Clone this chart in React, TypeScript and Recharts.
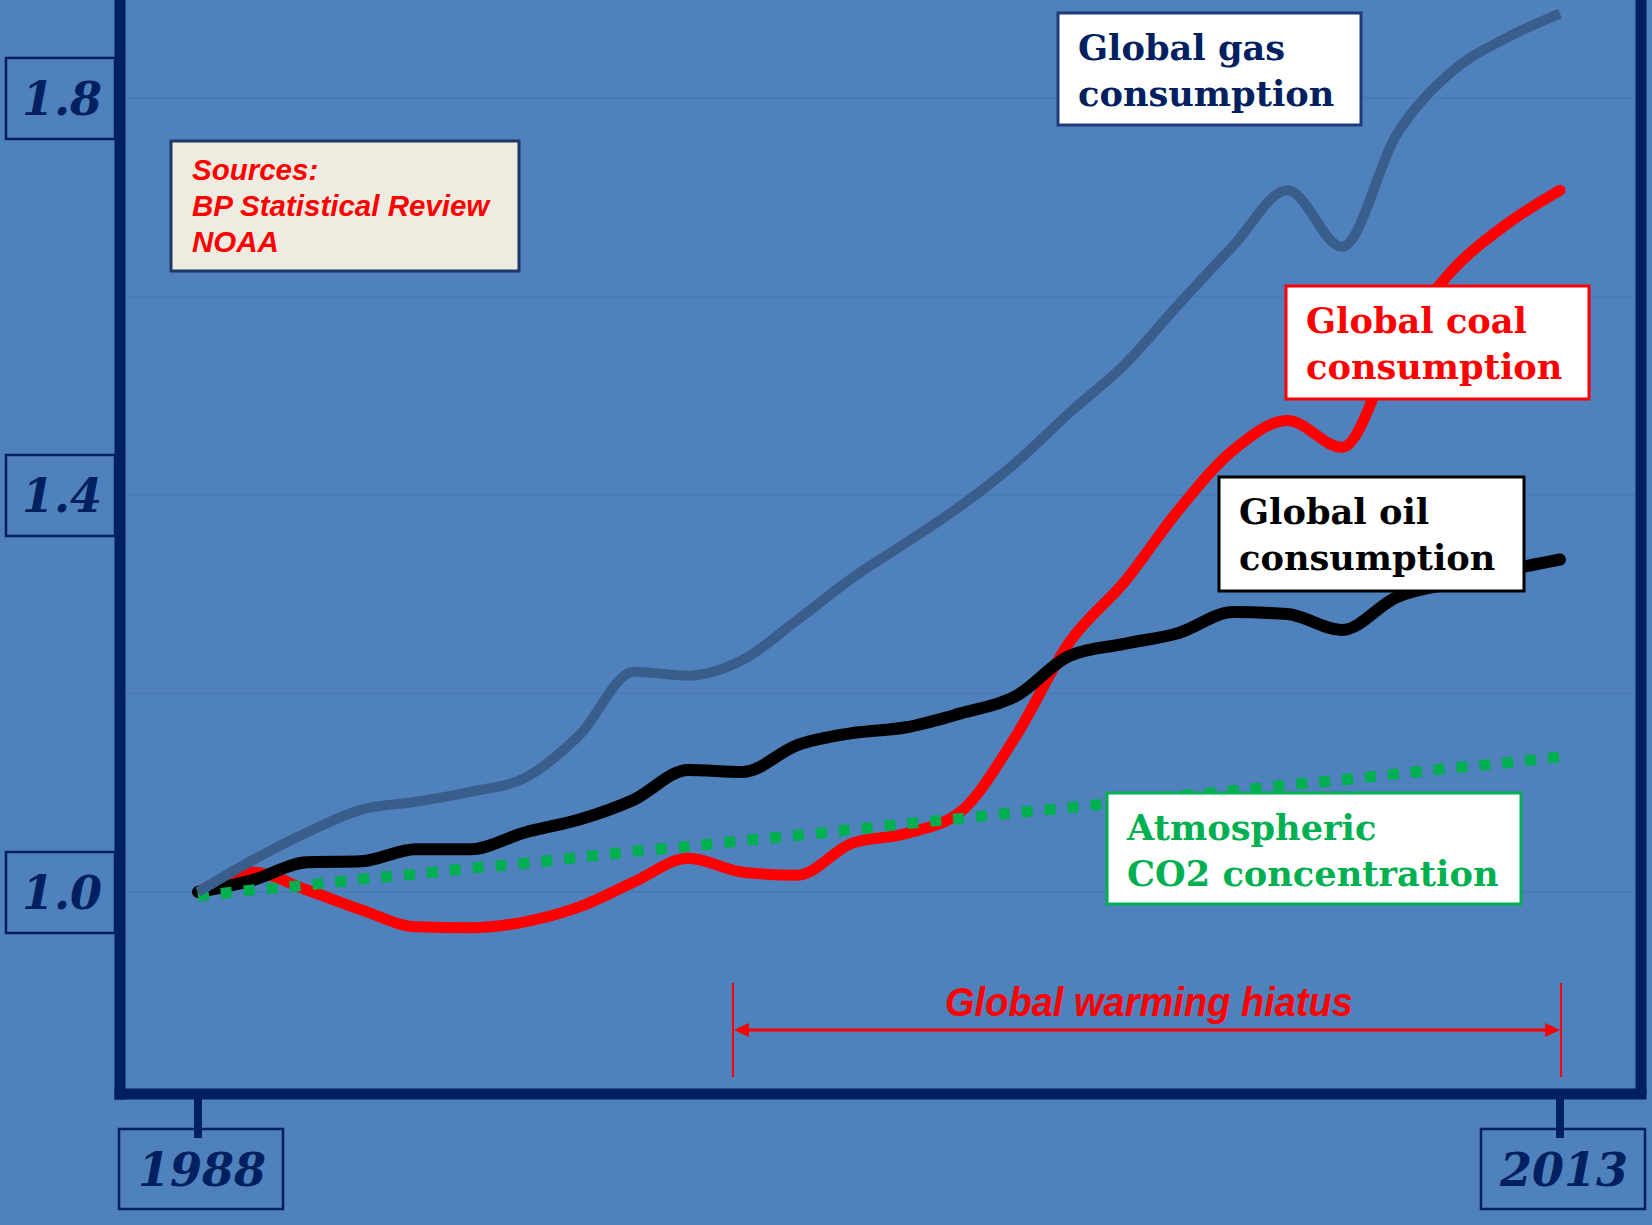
import React from 'react';
import { LineChart, Line, XAxis, YAxis, CartesianGrid, ReferenceLine } from 'recharts';

// ---------- data (indexed 1988 = 1.0) ----------
const years = [1988, 1989, 1990, 1991, 1992, 1993, 1994, 1995, 1996, 1997, 1998, 1999, 2000,
  2001, 2002, 2003, 2004, 2005, 2006, 2007, 2008, 2009, 2010, 2011, 2012, 2013];

const gasIndex = [1.000, 1.032, 1.060, 1.083, 1.091, 1.101, 1.115, 1.158, 1.222, 1.218, 1.234, 1.274, 1.316,
  1.352, 1.389, 1.432, 1.483, 1.531, 1.592, 1.651, 1.707, 1.650, 1.763, 1.826, 1.860, 1.885];

const coalIndex = [1.000, 1.020, 1.002, 0.982, 0.965, 0.964, 0.970, 0.985, 1.010, 1.034, 1.020, 1.017, 1.049,
  1.059, 1.081, 1.156, 1.252, 1.312, 1.385, 1.445, 1.475, 1.448, 1.551, 1.625, 1.672, 1.707];

const oilIndex = [1.000, 1.012, 1.030, 1.031, 1.043, 1.043, 1.060, 1.073, 1.093, 1.123, 1.121, 1.148, 1.160,
  1.166, 1.180, 1.197, 1.238, 1.250, 1.261, 1.282, 1.280, 1.264, 1.297, 1.311, 1.324, 1.335];

const co2Index = [0.996, 1.002, 1.007, 1.013, 1.018, 1.024, 1.029, 1.035, 1.041, 1.046, 1.052, 1.057, 1.063,
  1.069, 1.074, 1.080, 1.085, 1.091, 1.097, 1.102, 1.108, 1.113, 1.119, 1.125, 1.130, 1.136];

const xTicks = [1988, 2013];
const yTicks = [1.0, 1.4, 1.8];
const gridValues = [1.0, 1.2, 1.4, 1.6, 1.8];

const gasLabel = ['Global gas', 'consumption'];
const coalLabel = ['Global coal', 'consumption'];
const oilLabel = ['Global oil', 'consumption'];
const co2Label = ['Atmospheric', 'CO2 concentration'];
const sourcesLabel = ['Sources:', 'BP Statistical Review', 'NOAA'];
const hiatusLabel = 'Global warming hiatus';
const hiatusYears = [1997.82, 2013.02];

const rows = years.map((year, i) => ({
  year,
  gas: gasIndex[i],
  coal: coalIndex[i],
  oil: oilIndex[i],
  co2: co2Index[i],
}));

// ---------- layout / style ----------
const W = 1652;
const H = 1225;
const BG = '#4F81BD';
const NAVY = '#002060';
const RED = '#FF0000';
const GREEN = '#00B050';
const GAS = '#3A5E8C';
const X_DOMAIN: [number, number] = [1986.568, 2014.487];
const Y_DOMAIN: [number, number] = [0.7965, 1.8987];
const PLOT_LEFT = 120;
const PLOT_RIGHT = 1641;
const xPx = (yr: number) => PLOT_LEFT + ((yr - X_DOMAIN[0]) / (X_DOMAIN[1] - X_DOMAIN[0])) * (PLOT_RIGHT - PLOT_LEFT);

const LEGEND_FONT = '"DejaVu Serif", serif';
const TICK_FONT = '"DejaVu Serif", serif';
const SANS = '"Liberation Sans", Arial, sans-serif';

const YTick = (props: any) => {
  const { y, payload } = props;
  return (
    <g>
      <rect x={6} y={y - 40} width={109} height={81} fill="none" stroke={NAVY} strokeWidth={2.5} />
      <text x={62} y={y + 17} textAnchor="middle" fontFamily={TICK_FONT} fontWeight="bold"
        fontStyle="italic" fontSize={46} fill={NAVY}>
        {Number(payload.value).toFixed(1)}
      </text>
    </g>
  );
};

const XTick = (props: any) => {
  const { x, payload } = props;
  return (
    <g>
      <rect x={x - 79} y={1129} width={164} height={80} fill="none" stroke={NAVY} strokeWidth={2.5} />
      <text x={x + 4} y={1186} textAnchor="middle" fontFamily={TICK_FONT} fontWeight="bold"
        fontStyle="italic" fontSize={46} fill={NAVY}>
        {payload.value}
      </text>
    </g>
  );
};

const boxLayout = [
  { lines: gasLabel, x: 1058, y: 13, w: 303, h: 112, color: NAVY, border: '#1F3A78' },
  { lines: coalLabel, x: 1286, y: 286, w: 303, h: 113, color: RED, border: RED },
  { lines: oilLabel, x: 1219, y: 477, w: 305, h: 114, color: '#000000', border: '#000000' },
  { lines: co2Label, x: 1107, y: 793, w: 414, h: 111, color: GREEN, border: GREEN },
];

const Overlay = () => {
  const hx1 = xPx(hiatusYears[0]);
  const hx2 = xPx(hiatusYears[1]);
  const ay = 1030;
  return (
    <svg width={W} height={H} style={{ position: 'absolute', left: 0, top: 0, pointerEvents: 'none' }}>
      {/* sources box */}
      <rect x={171} y={141} width={348} height={130} fill="#EEECE1" stroke="#1F3864" strokeWidth={3} />
      {sourcesLabel.map((t, i) => (
        <text key={t} x={192} y={180 + i * 36} fontFamily={SANS} fontWeight="bold" fontStyle="italic"
          fontSize={29.5} fill={RED}>{t}</text>
      ))}
      {/* legend boxes */}
      {boxLayout.map((b, k) => (
        <g key={k}>
          <rect x={b.x} y={b.y} width={b.w} height={b.h} fill="#FFFFFF" stroke={b.border} strokeWidth={3} />
          {b.lines.map((t, i) => (
            <text key={t} x={b.x + 20} y={b.y + 47 + i * 46} fontFamily={LEGEND_FONT} fontWeight="bold"
              fontSize={35.2} fill={b.color}>{t}</text>
          ))}
        </g>
      ))}
      {/* hiatus annotation */}
      <line x1={hx1} y1={983} x2={hx1} y2={1077} stroke={RED} strokeWidth={2} />
      <line x1={hx2} y1={983} x2={hx2} y2={1077} stroke={RED} strokeWidth={2} />
      <line x1={hx1 + 10} y1={ay} x2={hx2 - 10} y2={ay} stroke={RED} strokeWidth={3} />
      <polygon points={`${hx1 + 1},${ay} ${hx1 + 16},${ay - 7} ${hx1 + 16},${ay + 7}`} fill={RED} />
      <polygon points={`${hx2 - 1},${ay} ${hx2 - 16},${ay - 7} ${hx2 - 16},${ay + 7}`} fill={RED} />
      <text x={1149} y={1016} textAnchor="middle" fontFamily={SANS} fontWeight="bold" fontStyle="italic"
        fontSize={40} fill={RED} textLength={408} lengthAdjust="spacingAndGlyphs">{hiatusLabel}</text>
    </svg>
  );
};

export default function App() {
  return (
    <div style={{ position: 'absolute', left: 0, top: 0, width: W, height: H, background: BG, overflow: 'hidden' }}>
      <div style={{ position: 'absolute', left: 0, top: 0 }}>
        <LineChart width={W} height={H} data={rows} margin={{ top: 0, right: 11, bottom: 11, left: 10 }}>
          <CartesianGrid vertical={false} horizontalValues={gridValues} stroke="#4A7BB6" strokeWidth={2} />
          <XAxis dataKey="year" type="number" domain={X_DOMAIN} allowDataOverflow ticks={xTicks}
            height={120} tickSize={44}
            axisLine={{ stroke: NAVY, strokeWidth: 11, strokeLinecap: 'square' } as any}
            tickLine={{ stroke: NAVY, strokeWidth: 8 }}
            tick={(p: any) => <XTick {...p} />} interval={0} />
          <YAxis type="number" domain={Y_DOMAIN} allowDataOverflow ticks={yTicks} width={110}
            axisLine={{ stroke: NAVY, strokeWidth: 11, strokeLinecap: 'square' } as any}
            tickLine={false} tick={(p: any) => <YTick {...p} />} interval={0} />
          <ReferenceLine x={X_DOMAIN[1]} stroke={NAVY} strokeWidth={11} />
          <Line dataKey="coal" type="monotone" stroke={RED} strokeWidth={11} dot={false} activeDot={false}
            isAnimationActive={false} strokeLinecap="round" />
          <Line dataKey="oil" type="monotone" stroke="#000000" strokeWidth={12} dot={false} activeDot={false}
            isAnimationActive={false} strokeLinecap="round" />
          <Line dataKey="co2" type="linear" stroke={GREEN} strokeWidth={11} strokeDasharray="11 12"
            dot={false} activeDot={false} isAnimationActive={false} />
          <Line dataKey="gas" type="monotone" stroke={GAS} strokeWidth={10} dot={false} activeDot={false}
            isAnimationActive={false} />
        </LineChart>
      </div>
      <Overlay />
    </div>
  );
}
